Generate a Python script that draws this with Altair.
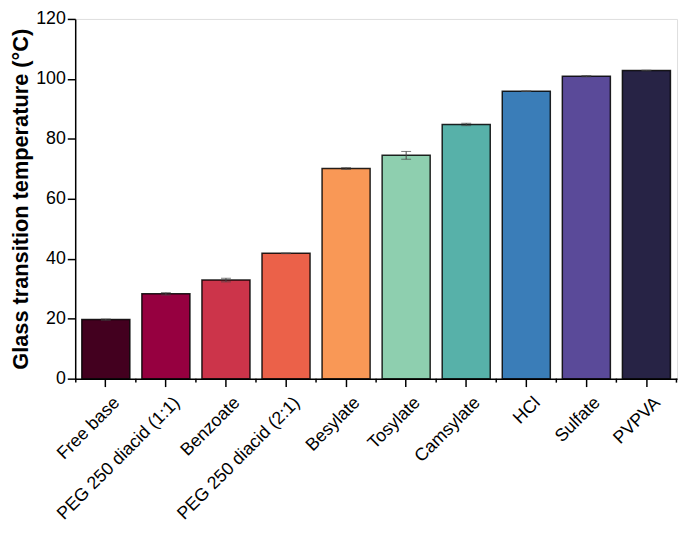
import altair as alt
import pandas as pd

categories = ["Free base", "PEG 250 diacid (1:1)", "Benzoate", "PEG 250 diacid (2:1)",
              "Besylate", "Tosylate", "Camsylate", "HCl", "Sulfate", "PVPVA"]
tg_values = [19.7, 28.3, 32.9, 41.8, 70.1, 74.5, 84.8, 95.9, 100.9, 102.8]
tg_errors = [0.2, 0.4, 0.6, 0.1, 0.3, 1.3, 0.4, 0.1, 0.2, 0.1]
colors = ["#43001f", "#960040", "#cc344a", "#eb6149", "#f99856",
          "#8ecfaf", "#57b1a9", "#3a7db8", "#5a4a99", "#272345"]

df = pd.DataFrame({"cat": categories, "tg": tg_values, "err": tg_errors})

W, H = 609, 364
FONT = "Liberation Sans"

x = alt.X("cat:N", sort=categories,
          scale=alt.Scale(paddingInner=0.2, paddingOuter=0.11),
          axis=alt.Axis(title=None, labelAngle=-45, labelAlign="right", labelBaseline="top",
                        labelFontSize=18, labelFont=FONT, labelColor="black",
                        tickSize=8, tickWidth=1.5, tickColor="black",
                        domainColor="black", domainWidth=1.5, labelPadding=7,
                        labelOffset=5))

y_axis = alt.Axis(title="Glass transition temperature (°C)", titleFont=FONT,
                  titleFontSize=22, titleFontWeight="bold", titleColor="black",
                  titlePadding=3,
                  values=list(range(0, 121, 10)),
                  labelExpr="datum.value % 20 == 0 ? datum.label : ''",
                  tickSize={"condition": {"test": "datum.value % 20 == 0", "value": 8}, "value": 4},
                  labelFontSize=18, labelFont=FONT, labelColor="black",
                  tickWidth=1.5, tickColor="black", domainColor="black", domainWidth=1.5,
                  labelPadding=2, grid=False)

base = alt.Chart(df)

bars = base.mark_bar(stroke="black", strokeWidth=1.5, strokeOpacity=0.85).encode(
    x=x,
    y=alt.Y("tg:Q", scale=alt.Scale(domain=[0, 120], nice=False), axis=y_axis),
    color=alt.Color("cat:N", sort=categories, scale=alt.Scale(domain=categories, range=colors), legend=None),
)

err = base.transform_calculate(lo="datum.tg - datum.err", hi="datum.tg + datum.err")

rule = err.mark_rule(color="#444444", strokeWidth=1).encode(
    x=alt.X("cat:N", sort=categories), y="lo:Q", y2="hi:Q")
cap_lo = err.mark_tick(color="#444444", thickness=1, size=10).encode(
    x=alt.X("cat:N", sort=categories), y="lo:Q")
cap_hi = err.mark_tick(color="#444444", thickness=1, size=10).encode(
    x=alt.X("cat:N", sort=categories), y="hi:Q")

minor = base.mark_rule(color="black", strokeWidth=1.5, xOffset=-30.4).encode(
    x=alt.X("cat:N", sort=categories), y=alt.value(H), y2=alt.value(H + 4))
minor_end = base.transform_filter(alt.datum.cat == categories[-1]).mark_rule(
    color="black", strokeWidth=1.5, xOffset=30.4).encode(
    x=alt.X("cat:N", sort=categories), y=alt.value(H), y2=alt.value(H + 4))

chart = alt.layer(bars, rule, cap_lo, cap_hi, minor, minor_end).properties(
    width=W, height=H,
    autosize=alt.AutoSizeParams(type="none"),
    padding={"left": 68, "top": 8, "right": 4, "bottom": 145},
).configure_view(stroke=None).configure(background="white")

chart.save("out.html", embed_options={"renderer": "svg", "actions": False})
